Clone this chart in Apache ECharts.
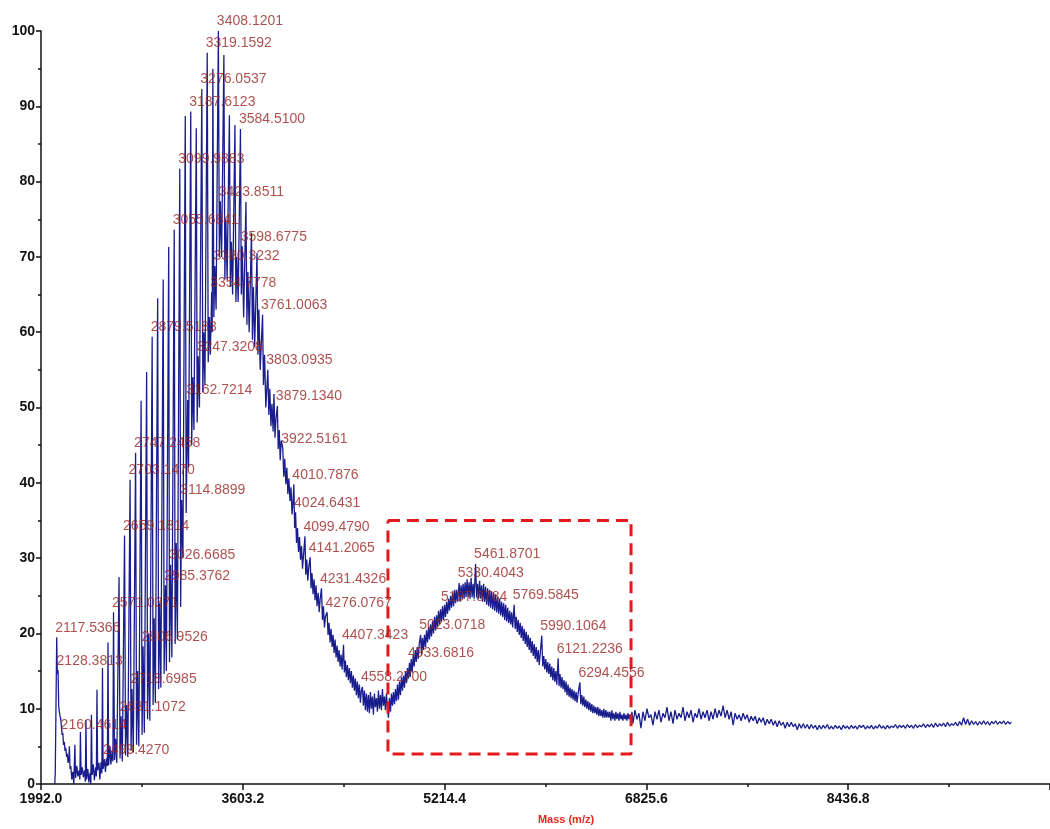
<!DOCTYPE html>
<html>
<head>
<meta charset="utf-8">
<script src="https://cdn.jsdelivr.net/npm/echarts@6/dist/echarts.min.js"></script>
<style>
  html, body { margin: 0; padding: 0; background: #ffffff; }
  #chart { width: 1050px; height: 829px; }
</style>
</head>
<body>
<div id="chart"></div>
<script>
// Mass axis ticks (m/z) and intensity range (%)
const massTicks = [1992.0, 3603.2, 5214.4, 6825.6, 8436.8, 10048.0];
const intensityRange = [0, 100];
const intensityStep = 10;

// Spectrum trace, [m/z, relative intensity], split by region
const leadTrace = [
  [2102,0],[2106,1.5],[2122,14.6],[2133,10.5],[2138,9.6],[2144,9.0],[2150,8.6],[2155,7.6],[2166,6.8],[2172,5.2],
  [2178,5.6],[2184,4.4],[2190,4.8],[2196,3.6],[2202,4.0],[2208,2.8],[2214,3.2],[2218.6,5.0],[2224,2.0],[2230,2.4],
  [2238,0.6],[2246,1.6],[2254,0.0],[2262.6,5.2],[2268,0.8],[2278,2.4],[2286,1.0],[2296,1.8],[2302,0.6],[2306.7,6.9],
  [2312,1.2],[2322,2.2],[2330,0.9],[2340,1.8],[2346,0.3],[2350.8,8.5],[2356,0.6],[2366,2.0],[2374,0.2],[2384,1.5],
  [2390,0.0],[2394.8,9.2],[2400,1.2],[2410,2.6],[2418,0.5],[2428,2.2],[2434,1.0],[2438.9,12.5],[2444,1.8],[2455,2.8],
  [2462,0.6],[2472,2.9],[2478,1.4],[2482.9,15.4],[2488,2.0],[2506,1.6],[2516,3.4],[2522,2.4],[2527,18.8],[2532,2.5],
  [2543,5.0],[2550,2.6],[2560,4.4],[2566,3.0]
];

const combTrace = [
  [2579,3.2],[2587,6.0],[2597,2.8],
  [2615.1,27.5],[2623,3.4],[2641,3.0],
  [2667,3.8],[2675.2,10.5],[2685,3.6],
  [2711,4.4],[2729,4.2],
  [2755,5.2],[2763.3,15.0],[2773,5.0],
  [2791.3,50.9],[2799,6.5],[2817,6.8],
  [2835.4,54.7],[2843,8.6],[2851.4,20.0],[2861,8.4],
  [2887,10.5],[2895.5,22.0],[2905,10.8],
  [2923.5,64.5],[2931,12.6],[2939.5,24.0],[2949,12.8],
  [2967.6,67.0],[2975,14.6],[2993,15.0],
  [3011.6,71.3],[3018,16.2],[3037,16.8],
  [3063,18.6],[3071.7,32.0],[3081,19.2],
  [3107,23.5],[3125,30.0],
  [3143.8,88.7],[3151,36.0],[3170,42.0],
  [3195,45.0],[3203.6,54.0],[3213,47.0],
  [3231.9,87.1],[3239,48.0],[3257,50.0],
  [3284,52.0],[3292,60.0],[3301,53.0],
  [3327,56.0],[3336,62.0],[3344,57.0],[3359,60.0],
  [3364.1,95.0],[3372,62.0],[3390,63.0],
  [3416,70.0],[3434,70.0],
  [3452.2,96.8],[3460,67.0],[3468,75.0],[3478,67.0],
  [3496.2,88.8],[3504,66.0],[3512,72.0],[3522,65.0],
  [3540.3,87.5],[3548,64.0],[3556,70.0],[3566,64.0],
  [3591,65.0],[3610,62.0],
  [3628.4,77.3],[3636,61.0],[3644,68.0],[3654,60.0],
  [3672.5,73.2],[3680,59.0],[3688,66.0],[3698,58.0],
  [3716.5,70.5],[3724,57.0],[3732,63.0],[3742,55.0],
  [3768,53.0],[3777,57.0],[3787,50.0]
];

const decayTrace = [
  [3811,49.0],[3819,52.5],[3828,47.5],[3836,50.5],[3845,46.8],[3852,51.8],[3860,46.0],[3868,48.5],[3886,44.5],[3894,47.0],
  [3902,43.0],[3910,45.6],[3930,40.8],[3938,43.2],[3947,39.8],[3955,42.0],[3963,38.5],[3971,40.6],[3980,37.6],[3988,39.4],
  [3996,35.8],[4003,37.2],[4017,34.0],[4032,32.0],[4040,34.0],[4048,30.8],[4056,32.8],[4064,29.8],[4072,31.6],[4080,28.6],
  [4088,30.4],[4106,27.8],[4114,29.8],[4122,27.0],[4130,28.8],[4148,26.0],[4156,28.0],[4164,25.2],[4172,27.2],[4180,24.4],
  [4188,26.4],[4196,23.6],[4205,25.4],[4213,22.8],[4221,24.6],[4239,21.8],[4247,23.6],[4255,20.8],[4263,22.2],[4284,19.8],
  [4292,21.4],[4300,18.8],[4308,20.6],[4316,18.2],[4324,19.8],[4332,17.4],[4340,19.2],[4348,16.8],[4356,18.4],[4364,16.2],
  [4372,17.8],[4380,15.6],[4388,17.2],[4396,15.2],[4414,14.8],[4422,16.4],[4430,14.2],[4438,15.8],[4446,13.8],[4454,15.4],
  [4462,13.4],[4470,15.0],[4478,12.8],[4486,14.4],[4494,12.4],[4502,14.0],[4510,11.8],[4518,13.6],[4526,11.4],[4534,13.2],
  [4542,10.8],[4550,12.4],[4566,10.4],[4574,12.4],[4582,9.8],[4590,12.0],[4598,9.6],[4606,11.8],[4614,9.4],[4622,12.2],
  [4630,10.0],[4638,11.6],[4646,9.2],[4654,12.0],[4662,10.2],[4670,11.4],[4678,9.6],[4686,12.4],[4694,10.0],[4702,11.8],
  [4710,9.8],[4718,12.6],[4726,10.4],[4734,11.6],[4742,9.8],[4750,12.0],[4758,10.2],[4766,8.8]
];

const bumpTrace = [
  [4774,11.4],[4782,9.6],[4790,12.0],[4798,10.4],[4806,12.2],[4814,10.6],[4822,12.6],[4830,11.0],
  [4838,13.2],[4846,11.2],[4854,13.6],[4862,11.8],[4870,14.2],[4878,12.4],[4886,14.4],[4894,12.8],[4902,15.0],[4910,13.4],
  [4918,15.4],[4926,14.0],[4940,14.2],
  [4948,16.6],[4956,14.8],[4964,17.2],[4972,15.6],[4980,17.8],[4988,16.2],[4996,18.2],[5004,16.6],[5012,18.6],[5030,17.2],
  [5038,19.4],[5046,17.8],[5054,19.8],[5062,18.2],[5070,20.4],[5078,18.8],[5086,20.8],[5094,19.2],
  [5102,21.2],[5110,19.6],[5118,21.6],[5126,20.0],[5134,22.2],[5142,20.4],[5150,22.4],[5158,20.8],[5166,23.0],[5174,21.2],
  [5182,23.2],[5190,21.6],[5206,21.8],
  [5214,23.8],[5222,22.2],[5230,24.2],[5238,22.6],[5246,24.6],[5254,23.0],[5262,25.0],[5270,23.4],[5278,25.4],[5286,23.6],
  [5294,25.8],[5302,24.0],[5310,25.8],[5318,24.2],[5338,24.2],
  [5346,26.4],[5354,24.6],[5362,26.6],[5370,24.6],[5378,26.8],[5386,24.8],[5394,27.2],[5402,24.8],[5410,26.8],[5418,24.6],
  [5426,27.4],[5434,24.8],[5442,26.6],[5450,24.6],[5470,24.8],
  [5478,26.6],[5486,24.6],[5494,27.0],[5502,24.6],[5510,26.4],[5518,24.2],[5526,26.6],[5534,24.2],[5542,26.2],[5550,23.8],
  [5558,26.0],[5566,23.6],[5574,25.8],[5582,23.4],[5590,25.6],[5598,23.2],[5606,25.4],[5614,23.0],[5622,25.2],
  [5630,22.8],[5638,24.8],[5646,22.6],[5654,24.6],[5662,22.4],[5670,24.2],[5678,22.2],[5686,24.0],[5694,21.8],[5702,23.8],
  [5710,21.6],[5718,23.4],[5726,21.4],[5734,23.0],[5742,21.2],[5750,22.8],[5758,20.8],[5778,20.6],
  [5786,22.2],[5794,20.2],[5802,21.8],[5810,19.8],[5818,21.4],[5826,19.4],[5834,21.0],[5842,19.0],[5850,20.6],[5858,18.6],
  [5866,20.2],[5874,18.2],[5882,19.8],[5890,17.8],[5898,19.4],[5906,17.4],[5914,19.0],[5922,17.0],[5930,18.6],[5938,16.6],
  [5946,18.2],[5954,16.2],[5962,17.8],[5970,15.8],[5978,17.4],[5998,15.6],
  [6006,17.0],[6014,15.2],[6022,16.6],[6030,14.8],[6038,16.2],[6046,14.6],[6054,16.0],[6062,14.2],[6070,15.6],[6078,13.8],
  [6086,15.4],[6094,13.6],[6102,15.0],[6110,13.2],[6128,13.0],
  [6136,14.6],[6144,12.8],[6152,14.2],[6160,12.6],[6168,13.8],[6176,12.2],[6184,13.6],[6192,11.8],[6200,13.2],[6208,11.6],
  [6216,12.8],[6224,11.4],[6232,12.6],[6240,11.2],[6248,12.4],[6256,11.0],[6264,12.2],[6272,10.8],[6280,12.0],[6302,10.6],
  [6310,11.8],[6318,10.4],[6326,11.6],[6334,10.2],[6342,11.2],[6350,10.0],[6358,11.0],[6366,9.8],[6374,10.8],[6382,9.6],
  [6390,10.6],[6398,9.4],[6406,10.4],[6414,9.4],[6422,10.2],[6430,9.2],[6438,10.2],[6446,9.0],[6454,10.0],[6462,9.0],
  [6470,9.8],[6478,8.8],[6486,10.0],[6494,8.8],
  [6502,9.8],[6510,8.8],[6518,9.6],[6526,8.8],[6534,9.6],[6542,8.4],[6550,9.8],[6558,8.6],[6566,9.4],[6574,8.4],
  [6582,9.6],[6590,8.6],[6598,9.4],[6606,8.4],[6614,9.6],[6622,8.6],[6630,9.2],[6638,8.4],[6646,9.4],[6654,8.6],
  [6662,9.2],[6670,8.4],[6678,9.4],[6686,8.6],[6694,9.2],[6702,8.4],[6710,9.6]
];

const tailTrace = [
  [6718,8.0],[6734,9.8],[6750,8.6],[6766,9.4],[6782,7.4],[6798,9.6],[6814,8.4],[6830,10.0],[6846,8.8],[6862,9.2],
  [6878,7.8],[6894,9.6],[6910,8.6],[6926,9.8],[6942,8.2],[6958,9.4],[6974,8.8],[6990,10.2],[7006,8.4],[7022,9.6],
  [7038,8.0],[7054,9.8],[7070,8.6],[7086,9.4],[7102,8.8],[7118,10.2],[7134,8.4],[7150,9.6],[7166,8.8],[7182,9.8],
  [7198,8.2],[7214,9.4],[7230,8.8],[7246,10.0],[7262,8.6],[7278,9.6],[7294,8.8],[7310,9.8],[7326,8.4],[7342,9.6],
  [7358,8.6],[7374,10.0],[7390,8.8],[7406,9.8],[7422,9.0],[7438,10.4],[7454,8.8],[7470,9.8],[7486,8.6],[7502,9.6],
  [7518,7.8],[7534,9.4],[7550,8.6],[7566,9.2],[7582,8.4],[7598,9.4],[7614,8.6],[7630,9.2],[7646,8.2],[7662,9.0],
  [7678,8.4],[7694,9.0],[7710,8.0],[7726,8.8],[7742,8.2],[7758,8.8],[7774,7.8],[7790,8.6],[7806,8.0],[7822,8.6],
  [7838,7.8],[7854,8.4],[7870,7.6],[7886,8.4],[7902,7.8],[7918,8.2],[7934,7.4],[7950,8.2],[7966,7.6],[7982,8.2],
  [7998,7.6],[8014,8.0],[8030,7.2],[8046,8.0],[8062,7.4],[8078,8.0],[8094,7.4],[8110,7.9],[8126,7.3],[8142,7.9],
  [8158,7.4],[8174,7.8],[8190,7.2],[8206,7.8],[8222,7.3],[8238,7.8],[8254,7.4],[8270,7.9],[8286,7.3],[8302,7.7],
  [8318,7.3],[8334,7.8],[8350,7.4],[8366,7.7],[8382,7.2],[8398,7.8],[8414,7.4],[8430,7.7],[8446,7.3],[8462,7.8],
  [8478,7.4],[8494,7.7],[8510,7.3],[8526,7.8],[8542,7.5],[8558,7.8],[8574,7.3],[8590,7.7],[8606,7.4],[8622,7.8],
  [8638,7.3],[8654,7.7],[8670,7.4],[8686,7.9],[8702,7.4],[8718,7.7],[8734,7.3],[8750,7.8],[8766,7.4],[8782,7.7],
  [8798,7.5],[8814,7.9],[8830,7.4],[8846,7.8],[8862,7.5],[8878,7.8],[8894,7.4],[8910,7.9],[8926,7.5],[8942,7.8],
  [8958,7.4],[8974,7.9],[8990,7.5],[9006,7.8],[9022,7.6],[9038,8.0],[9054,7.5],[9070,7.9],[9086,7.6],[9102,8.0],
  [9118,7.5],[9134,8.1],[9150,7.6],[9166,8.0],[9182,7.7],[9198,8.1],[9214,7.6],[9230,8.2],[9246,7.7],[9262,8.0],
  [9278,7.8],[9294,8.2],[9310,7.7],[9326,8.3],[9342,7.8],[9358,8.8],[9374,7.9],[9390,8.6],[9406,7.8],[9422,8.4],
  [9438,7.9],[9454,8.3],[9470,7.8],[9486,8.3],[9502,7.9],[9518,8.4],[9534,7.9],[9550,8.3],[9566,7.8],[9582,8.3],
  [9598,8.0],[9614,8.4],[9630,7.9],[9646,8.3],[9662,8.0],[9678,8.4],[9694,7.9],[9710,8.3],[9726,8.0],[9740,8.2]
];

// Annotated peaks: [m/z, relative intensity]
const labelledPeaks = [
  [2117.5366,19.5],[2128.3813,15.1],[2160.4614,6.5],[2499.4270,3.3],[2571.0371,22.8],
  [2631.1072,9.0],[2659.1814,33.0],[2703.1470,40.4],[2718.6985,12.6],[2747.2458,44.0],
  [2806.9526,18.3],[2879.5183,59.4],[2985.3762,26.4],[3026.6685,29.1],[3055.6841,73.6],
  [3099.9883,81.7],[3114.8899,37.7],[3162.7214,51.0],[3187.6123,89.3],[3247.3208,56.8],
  [3276.0537,92.3],[3319.1592,97.1],[3354.7778,65.3],[3380.3232,68.8],[3408.1201,100],
  [3423.8511,77.4],[3584.5100,87.0],[3598.6775,71.4],[3761.0063,62.3],[3803.0935,55.0],
  [3879.1340,50.2],[3922.5161,44.6],[4010.7876,39.8],[4024.6431,36.1],[4099.4790,32.9],
  [4141.2065,30.1],[4231.4326,26.0],[4276.0767,22.8],[4407.3423,18.5],[4558.2700,12.9],
  [4933.6816,16.1],[5023.0718,19.8],[5197.8784,23.6],[5330.4043,26.7],[5461.8701,29.2],
  [5769.5845,23.8],[5990.1064,19.7],[6121.2236,16.7],[6294.4556,13.5]
];

// Highlighted region corners [m/z, intensity]
const highlightBox = [[4762,35],[6703,35],[6703,4],[4762,4],[4762,35]];

const trace = leadTrace.concat(combTrace, decayTrace, bumpTrace, tailTrace, labelledPeaks)
  .sort((a, b) => a[0] - b[0]);

const fontFamily = "'Liberation Sans', Arial, Helvetica, sans-serif";
const axisColor = '#111111';

const chart = echarts.init(document.getElementById('chart'), null, { renderer: 'canvas' });

chart.setOption({
  animation: false,
  backgroundColor: '#ffffff',
  grid: { left: 41, top: 31, width: 1050, height: 753, containLabel: false },
  xAxis: {
    type: 'value',
    min: massTicks[0],
    max: massTicks[massTicks.length - 1],
    interval: massTicks[1] - massTicks[0],
    axisLine: { show: true, onZero: false, lineStyle: { color: axisColor, width: 1.5 } },
    axisTick: { show: true, length: 6, lineStyle: { color: axisColor, width: 1.5 } },
    minorTick: { show: true, splitNumber: 2, length: 3, lineStyle: { color: axisColor, width: 1.5 } },
    splitLine: { show: false },
    axisLabel: {
      formatter: v => v.toFixed(1),
      color: axisColor, fontWeight: 'bold', fontSize: 14, margin: 8, fontFamily,
      showMaxLabel: false
    }
  },
  yAxis: {
    type: 'value',
    min: intensityRange[0],
    max: intensityRange[1],
    interval: intensityStep,
    axisLine: { show: true, lineStyle: { color: axisColor, width: 1.5 } },
    axisTick: { show: true, length: 5, lineStyle: { color: axisColor, width: 1.5 } },
    minorTick: { show: true, splitNumber: 2, length: 3, lineStyle: { color: axisColor, width: 1.5 } },
    splitLine: { show: false },
    axisLabel: { color: axisColor, fontWeight: 'bold', fontSize: 14, margin: 6, fontFamily }
  },
  graphic: [{
    type: 'text',
    x: 566, y: 820,
    style: {
      text: 'Mass (m/z)',
      fill: '#e3261e',
      font: 'bold 11px ' + fontFamily,
      textAlign: 'center',
      textVerticalAlign: 'middle'
    }
  }],
  series: [
    {
      name: 'spectrum',
      type: 'line',
      data: trace,
      showSymbol: false,
      symbol: 'none',
      silent: true,
      lineStyle: { color: '#1a1e8c', width: 1.3 },
      z: 2
    },
    {
      name: 'region',
      type: 'line',
      data: highlightBox,
      showSymbol: false,
      symbol: 'none',
      silent: true,
      lineStyle: { color: '#e3191c', width: 3, type: [12, 7] },
      z: 3
    },
    {
      name: 'peaks',
      type: 'scatter',
      data: labelledPeaks,
      symbolSize: 1,
      itemStyle: { color: 'rgba(0,0,0,0)' },
      silent: true,
      z: 4,
      label: {
        show: true,
        position: [0, 0],
        align: 'left',
        verticalAlign: 'bottom',
        offset: [-1, -2],
        formatter: p => p.value[0].toFixed(4),
        color: '#9a2622',
        fontSize: 14,
        fontFamily
      }
    }
  ]
});
</script>
</body>
</html>
